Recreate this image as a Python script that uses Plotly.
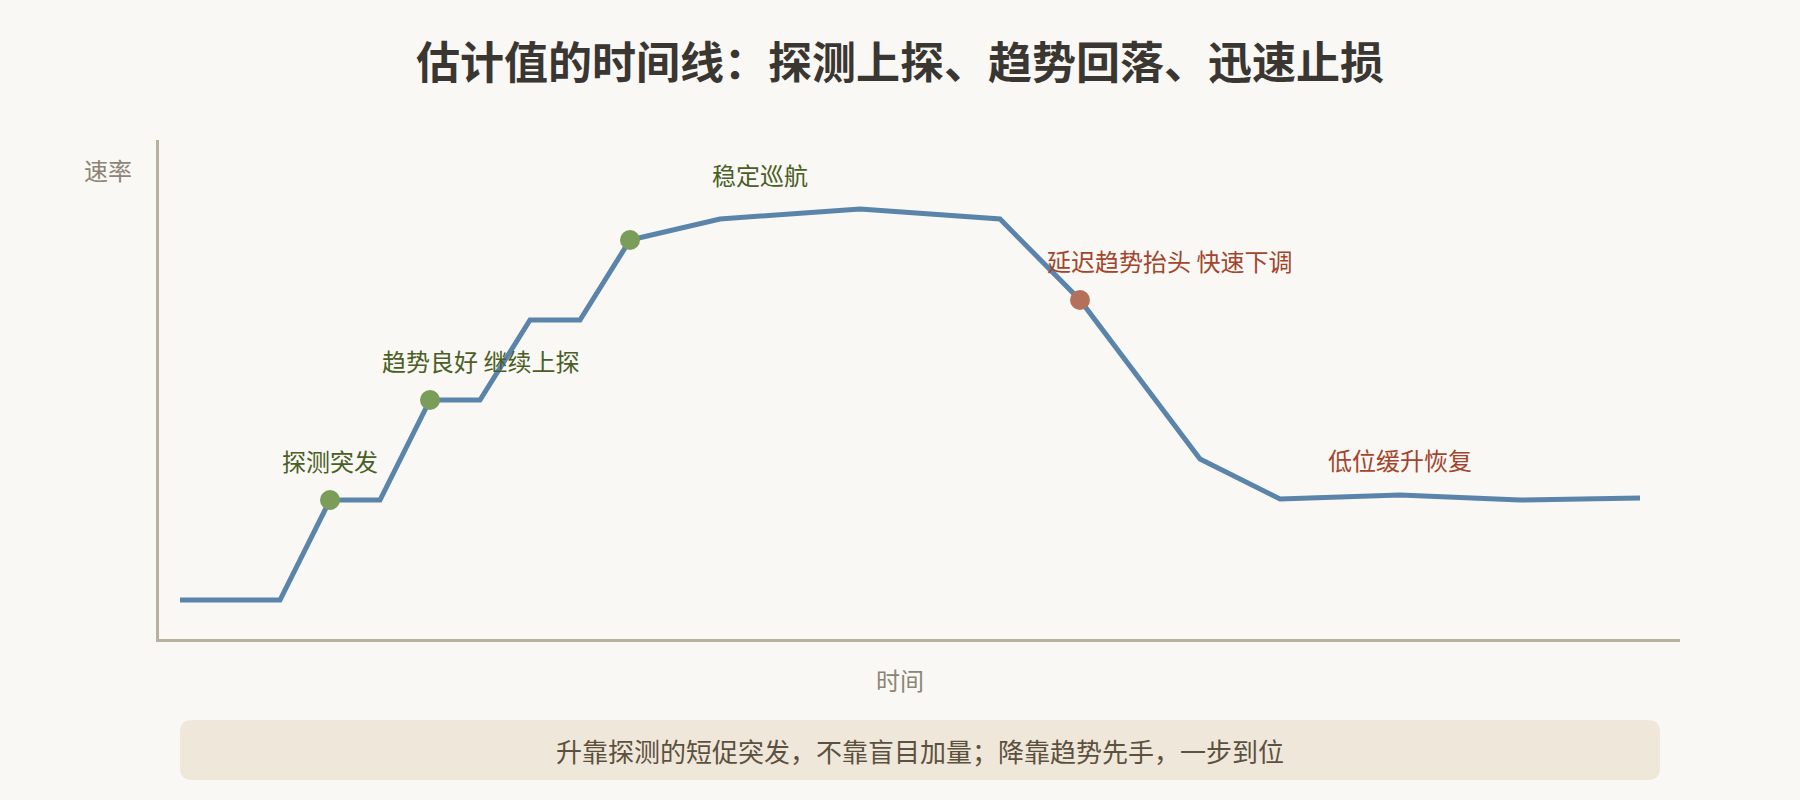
import plotly.graph_objects as go

# ---- data ----
time_pts = [0, 10, 15, 20, 25, 30, 35, 40, 45, 54, 68, 82, 90, 102, 110, 122, 134, 146]
rate_vals = [10, 10, 30, 30, 50, 50, 66, 66, 82, 86.2, 88.2, 86.2, 70, 38.2, 30.2, 31, 30, 30.4]

probe_t = [15, 25, 45]
probe_v = [30, 50, 82]
drop_t = [90]
drop_v = [70]

label_texts = ["探测突发", "趋势良好 继续上探", "稳定巡航", "延迟趋势抬头 快速下调", "低位缓升恢复"]
label_t = [15, 30, 58, 98.9, 122]
label_v = [37.6, 57.6, 94.8, 77.6, 37.8]
label_kind = ["up", "up", "up", "down", "down"]

title_text = "估计值的时间线：探测上探、趋势回落、迅速止损"
x_title = "时间"
y_title = "速率"
note_text = "升靠探测的短促突发，不靠盲目加量；降靠趋势先手，一步到位"

# ---- style ----
W, H = 1800, 800
ML, MR, MT, MB = 159, 120, 140, 161
PW, PH = W - ML - MR, H - MT - MB
FONT = "Noto Sans CJK SC, Microsoft YaHei, sans-serif"
BG = "#f9f8f4"
LINE = "#5b84aa"
GREEN = "#7a9e5a"
RED = "#b5705a"
GREEN_TXT = "#4a5e26"
RED_TXT = "#a3452d"
AXIS = "#b9b19f"
GRAY_TXT = "#8c8577"


def px_x(p):
    return (p - ML) / PW


def px_y(p):
    return (H - MB - p) / PH


fig = go.Figure()
fig.add_trace(go.Scatter(x=time_pts, y=rate_vals, mode="lines",
                         line=dict(color=LINE, width=5), hoverinfo="skip", showlegend=False))
fig.add_trace(go.Scatter(x=probe_t, y=probe_v, mode="markers",
                         marker=dict(color=GREEN, size=20), showlegend=False))
fig.add_trace(go.Scatter(x=drop_t, y=drop_v, mode="markers",
                         marker=dict(color=RED, size=20), showlegend=False))

annotations = []
for txt, t, v, k in zip(label_texts, label_t, label_v, label_kind):
    annotations.append(dict(x=t, y=v, xref="x", yref="y", text=txt, showarrow=False, yshift=2,
                            font=dict(family=FONT, size=24, color=GREEN_TXT if k == "up" else RED_TXT),
                            xanchor="center", yanchor="middle"))

annotations.append(dict(x=px_x(108), y=px_y(170), xref="paper", yref="paper", text=y_title,
                        showarrow=False, font=dict(family=FONT, size=24, color=GRAY_TXT),
                        xanchor="center", yanchor="middle"))
annotations.append(dict(x=px_x(900), y=px_y(679), xref="paper", yref="paper", text=x_title,
                        showarrow=False, font=dict(family=FONT, size=24, color=GRAY_TXT),
                        xanchor="center", yanchor="middle"))
annotations.append(dict(x=px_x(920), y=px_y(750), xref="paper", yref="paper", text=note_text,
                        showarrow=False, font=dict(family=FONT, size=26, color="#5c513f"),
                        xanchor="center", yanchor="middle"))

# rounded box
x0, x1, y0, y1, r = 180, 1660, 720, 780, 12
rx, ry = r / PW, r / PH
X0, X1 = px_x(x0), px_x(x1)
Y0, Y1 = px_y(y1), px_y(y0)  # bottom, top in paper
path = (f"M {X0+rx} {Y1} L {X1-rx} {Y1} Q {X1} {Y1} {X1} {Y1-ry} "
        f"L {X1} {Y0+ry} Q {X1} {Y0} {X1-rx} {Y0} L {X0+rx} {Y0} "
        f"Q {X0} {Y0} {X0} {Y0+ry} L {X0} {Y1-ry} Q {X0} {Y1} {X0+rx} {Y1} Z")

fig.update_layout(
    width=W, height=H,
    margin=dict(l=ML, r=MR, t=MT, b=MB),
    paper_bgcolor=BG, plot_bgcolor=BG,
    title=dict(text=title_text, x=0.5, xref="container", xanchor="center",
               y=1 - 64 / H, yref="container", yanchor="middle",
               font=dict(family=FONT, size=44, color="#3a3631", weight="bold")),
    annotations=annotations,
    shapes=[dict(type="path", path=path, xref="paper", yref="paper",
                 fillcolor="#efe8da", line=dict(width=0), layer="below")],
    showlegend=False,
)
fig.update_xaxes(range=[-2.1, 150], showline=True, linecolor=AXIS, linewidth=3,
                 showgrid=False, zeroline=False, showticklabels=False, ticks="")
fig.update_yaxes(range=[2.2, 102], showline=True, linecolor=AXIS, linewidth=3,
                 showgrid=False, zeroline=False, showticklabels=False, ticks="")

fig.write_html("out.html", config={"displayModeBar": False}, post_script=(
    "document.body.style.margin='0';document.body.style.overflow='hidden';"
    "document.body.style.background='" + BG + "';"))
